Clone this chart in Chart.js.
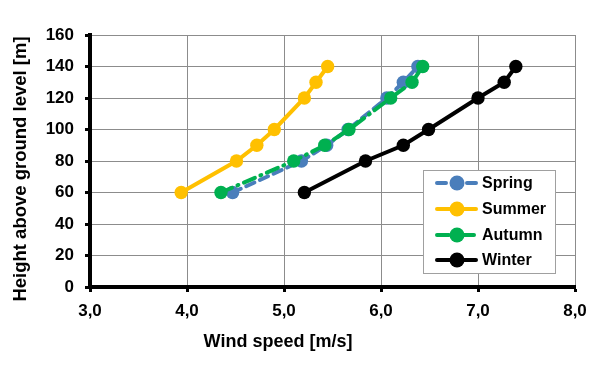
<!DOCTYPE html>
<html>
<head>
<meta charset="utf-8">
<script src="https://cdn.jsdelivr.net/npm/chart.js@4/dist/chart.umd.min.js"></script>
<style>
  html, body { margin: 0; padding: 0; background: #fff; }
  #wrap { width: 600px; height: 366px; }
</style>
</head>
<body>
<div id="wrap"><canvas id="c" width="600" height="366"></canvas></div>
<script>
// ---- data ----
const heights = [60, 80, 90, 100, 120, 130, 140];
const springSpeed = [4.47, 5.18, 5.44, 5.66, 6.06, 6.23, 6.38];
const summerSpeed = [3.94, 4.51, 4.72, 4.90, 5.21, 5.33, 5.45];
const autumnSpeed = [4.35, 5.10, 5.42, 5.67, 6.10, 6.32, 6.43];
const winterSpeed = [5.21, 5.84, 6.23, 6.49, 7.00, 7.27, 7.39];
const seriesNames = ['Spring', 'Summer', 'Autumn', 'Winter'];
const xTickValues = [3, 4, 5, 6, 7, 8];
const xTickLabels = ['3,0', '4,0', '5,0', '6,0', '7,0', '8,0'];
const yTickValues = [0, 20, 40, 60, 80, 100, 120, 140, 160];
const xTitle = 'Wind speed [m/s]';
const yTitle = 'Height above ground level [m]';

const FONT = "'Liberation Sans', Arial, Helvetica, sans-serif";
const colors = ['#4a7ebb', '#ffc000', '#00b050', '#000000'];
const dashes = [[9, 6], [], [12, 6, 1, 6], []];
const speeds = [springSpeed, summerSpeed, autumnSpeed, winterSpeed];
const orders = [1, 0, 0, 0];

const pts = arr => arr.map((v, i) => ({ x: v, y: heights[i] }));

const datasets = seriesNames.map((name, i) => ({
  label: name,
  data: pts(speeds[i]),
  showLine: true,
  borderColor: colors[i],
  backgroundColor: colors[i],
  pointBackgroundColor: colors[i],
  pointBorderColor: colors[i],
  borderWidth: 4,
  borderDash: dashes[i],
  borderCapStyle: 'round',
  pointRadius: 6.7,
  pointHoverRadius: 6.7,
  pointBorderWidth: 0,
  order: orders[i],
  tension: 0
}));

const decor = {
  id: 'decor',
  afterDraw(chart) {
    const ctx = chart.ctx;
    ctx.save();
    // axis titles
    ctx.fillStyle = '#000';
    ctx.font = 'bold 18px ' + FONT;
    ctx.textAlign = 'center';
    ctx.textBaseline = 'alphabetic';
    ctx.fillText(xTitle, 278, 347);
    ctx.save();
    ctx.translate(26, 169);
    ctx.rotate(-Math.PI / 2);
    ctx.font = 'bold 18.5px ' + FONT;
    ctx.fillText(yTitle, 0, 0);
    ctx.restore();

    // legend box
    const bx = 423.5, by = 170.5, bw = 132, bh = 103;
    ctx.fillStyle = '#fff';
    ctx.fillRect(bx, by, bw, bh);
    ctx.strokeStyle = '#a0a0a0';
    ctx.lineWidth = 1;
    ctx.strokeRect(bx, by, bw, bh);
    const rows = [183, 209, 235, 260];
    ctx.font = 'bold 16px ' + FONT;
    ctx.textAlign = 'left';
    ctx.textBaseline = 'middle';
    seriesNames.forEach((name, i) => {
      const y = rows[i];
      ctx.strokeStyle = colors[i];
      ctx.lineWidth = 4;
      ctx.lineCap = 'round';
      ctx.setLineDash(dashes[i]);
      ctx.beginPath();
      ctx.moveTo(437, y);
      ctx.lineTo(476, y);
      ctx.stroke();
      ctx.setLineDash([]);
      ctx.fillStyle = colors[i];
      ctx.beginPath();
      ctx.arc(457, y, 7.5, 0, Math.PI * 2);
      ctx.fill();
      ctx.fillStyle = '#000';
      ctx.fillText(name, 482, y + 1);
    });
    ctx.restore();
  }
};

new Chart(document.getElementById('c'), {
  type: 'scatter',
  data: { datasets },
  options: {
    responsive: false,
    animation: false,
    devicePixelRatio: 1,
    layout: { padding: { top: 35, right: 25, left: 0, bottom: 0 } },
    plugins: { legend: { display: false }, tooltip: { enabled: false } },
    scales: {
      x: {
        type: 'linear',
        min: 3, max: 8,
        afterFit(s) { s.height = 79; },
        afterBuildTicks(s) { s.ticks = xTickValues.map(v => ({ value: v })); },
        ticks: {
          padding: 9,
          color: '#000',
          font: { family: FONT, size: 17, weight: 'bold' },
          callback: (v) => xTickLabels[xTickValues.indexOf(v)]
        },
        grid: { color: '#8c8c8c', lineWidth: 1, tickColor: '#000', tickWidth: 3, tickLength: 5 },
        border: { color: '#000', width: 4 }
      },
      y: {
        type: 'linear',
        min: 0, max: 160,
        afterFit(s) { s.width = 90; },
        afterBuildTicks(s) { s.ticks = yTickValues.map(v => ({ value: v })); },
        ticks: {
          padding: 11,
          color: '#000',
          font: { family: FONT, size: 17, weight: 'bold' },
          callback: (v) => String(v)
        },
        grid: { color: '#8c8c8c', lineWidth: 1, tickColor: '#000', tickWidth: 3, tickLength: 5 },
        border: { color: '#000', width: 4 }
      }
    }
  },
  plugins: [decor]
});
</script>
</body>
</html>
